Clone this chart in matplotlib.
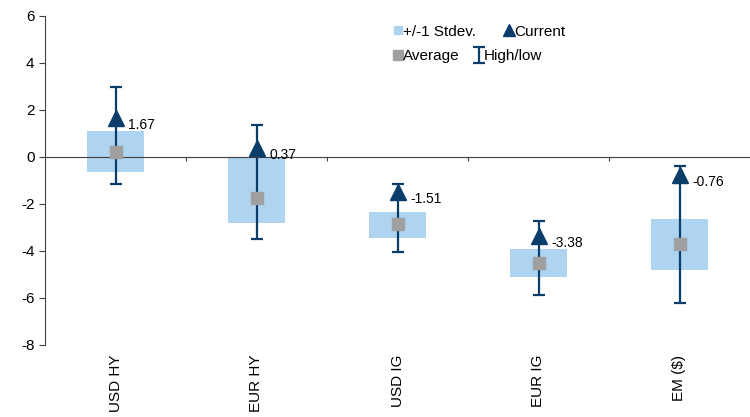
import matplotlib.pyplot as plt
from matplotlib.lines import Line2D

plt.rcParams['font.family'] = ['Liberation Sans', 'DejaVu Sans']
plt.rcParams['axes.unicode_minus'] = False

categories = ['USD HY', 'EUR HY', 'USD IG', 'EUR IG', 'EM ($)']
current = [1.67, 0.37, -1.51, -3.38, -0.76]
average = [0.2, -1.75, -2.85, -4.51, -3.7]
high = [2.98, 1.36, -1.15, -2.72, -0.38]
low = [-1.16, -3.49, -4.04, -5.87, -6.21]
box_top = [1.1, 0.0, -2.34, -3.91, -2.64]
box_bottom = [-0.65, -2.83, -3.45, -5.11, -4.81]

navy = '#0b3d6b'
fig = plt.figure(figsize=(7.5, 4.17), dpi=100)
ax = fig.add_axes([0.06, 0.173, 0.94, 0.789])

x = list(range(len(categories)))
heights = [t - b for t, b in zip(box_top, box_bottom)]
ax.bar(x, heights, bottom=box_bottom, width=0.41, color='#aed4f0', zorder=1)

err_lo = [c - l for c, l in zip(current, low)]
err_hi = [h - c for h, c in zip(high, current)]
eb = ax.errorbar(x, current, yerr=[err_lo, err_hi], fmt='none', ecolor=navy,
                 elinewidth=1.6, capsize=4, capthick=1.6, zorder=2)
ax.plot(x, average, 's', color='#a0a0a0', markersize=8, zorder=3)
ax.plot(x, current, '^', color=navy, markersize=11, zorder=4)

for xi, v in zip(x, current):
    ax.annotate(f'{v:.2f}', (xi, v), xytext=(9, -5), textcoords='offset points',
                ha='left', va='center', fontsize=10)

for xi, name in zip(x, categories):
    ax.text(xi, -0.03, name, transform=ax.get_xaxis_transform(), rotation=90,
            ha='center', va='top', fontsize=11)

ax.set_xlim(-0.5, len(categories) - 0.5)
ax.set_ylim(-8, 6)
ax.set_yticks(range(-8, 7, 2))
ax.set_xticks([i + 0.5 for i in range(len(categories) - 1)])
ax.set_xticklabels([])
ax.spines['bottom'].set_position(('data', 0))
ax.spines['bottom'].set_color('#404040')
ax.spines['left'].set_color('#404040')
ax.spines['top'].set_visible(False)
ax.spines['right'].set_visible(False)
ax.tick_params(axis='y', labelsize=11, length=4, color='#404040')
ax.tick_params(axis='x', length=3, color='#404040')

sd_h = Line2D([], [], marker='s', color='#aed4f0', linestyle='none', markersize=6)
avg_h = Line2D([], [], marker='s', color='#a0a0a0', linestyle='none', markersize=7)
cur_h = Line2D([], [], marker='^', color=navy, linestyle='none', markersize=8)

leg_kw = dict(ncol=2, loc='upper left', frameon=False, fontsize=11,
              handlelength=0.5, handletextpad=0.1, borderaxespad=0)
leg1 = ax.legend([sd_h, cur_h], ['+/-1 Stdev.', 'Current'],
                 bbox_to_anchor=(0.486, 0.992), columnspacing=1.9, **leg_kw)
ax.add_artist(leg1)
ax.legend([avg_h, eb], ['Average', 'High/low'],
          bbox_to_anchor=(0.486, 0.917), columnspacing=1.0, **leg_kw)

fig.savefig('out.png', dpi=100)
